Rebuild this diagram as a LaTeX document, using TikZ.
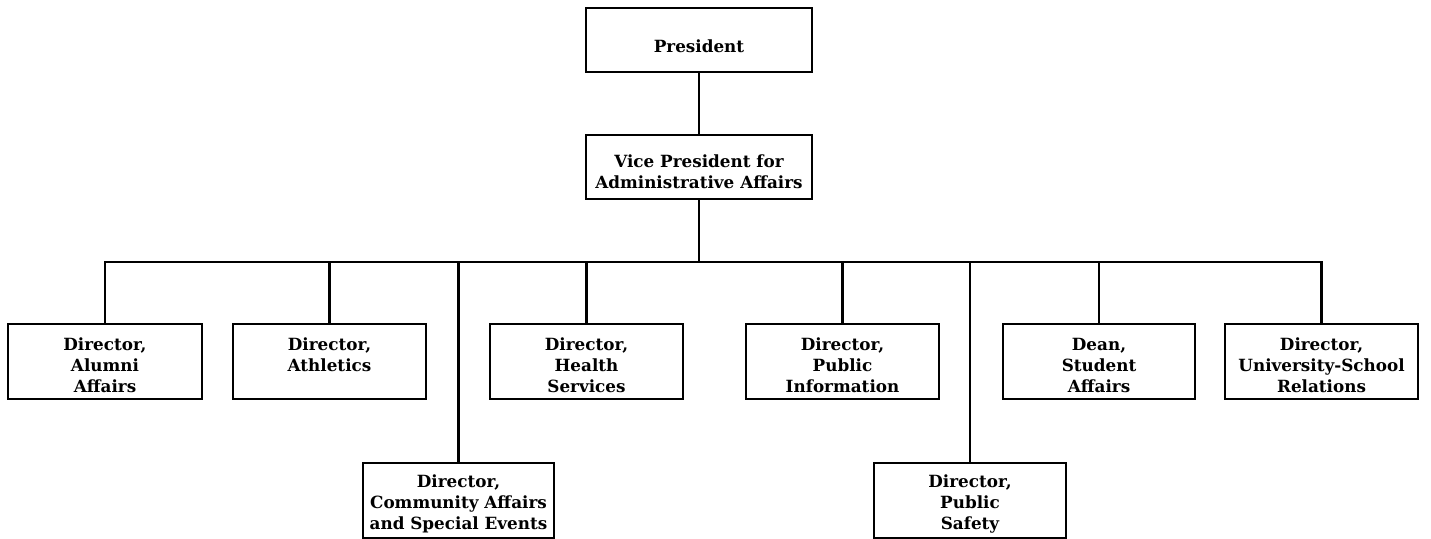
\documentclass[tikz,border=0pt]{standalone}
\usepackage{fontspec}
\setmainfont{DejaVu Serif}
\begin{document}
\begin{tikzpicture}[x=1pt,y=-1pt,
  orgbox/.style={draw=black, line width=2.3pt, fill=white, inner sep=0pt},
  rowbox/.style={orgbox, minimum width=193pt, minimum height=75pt},
  topbox/.style={orgbox, minimum width=226pt, minimum height=64pt},
  boxtext/.style={align=center, inner sep=0pt,
    font=\fontsize{16.8}{21}\selectfont\bfseries},
  link/.style={line width=2.3pt, line cap=rect}]
\useasboundingbox (0,0) rectangle (1431,538);
\fill[white] (0,0) rectangle (1431,538);

% boxes
\node[topbox] (pres) at (699,40) {};
\node[topbox] (vp) at (699,167) {};
\node[rowbox, minimum width=194pt] (alumni) at (105,361.5) {};
\node[rowbox] (ath) at (329.5,361.5) {};
\node[rowbox, minimum width=191pt] (comm) at (458.5,500.5) {};
\node[rowbox] (health) at (586.5,361.5) {};
\node[rowbox] (pubinfo) at (842.5,361.5) {};
\node[rowbox, minimum width=192pt] (safety) at (970,500.5) {};
\node[rowbox, minimum width=192pt] (dean) at (1099,361.5) {};
\node[rowbox] (univ) at (1321.5,361.5) {};

% texts
\node[boxtext] (presT) at ([yshift=-6pt]pres.center) {President};
\node[boxtext] (vpT) at ([yshift=-5pt]vp.center) {Vice President for\\Administrative Affairs};
\node[boxtext] (alumniT) at ([yshift=-4pt]alumni.center) {Director,\\Alumni\\Affairs};
\node[boxtext, anchor=north] (athT) at (alumniT.north -| ath.center) {Director,\\Athletics};
\node[boxtext] (commT) at ([yshift=-3pt]comm.center) {Director,\\Community Affairs\\and Special Events};
\node[boxtext] (healthT) at ([yshift=-4pt]health.center) {Director,\\Health\\Services};
\node[boxtext] (pubinfoT) at ([yshift=-4pt]pubinfo.center) {Director,\\Public\\Information};
\node[boxtext] (safetyT) at ([yshift=-3pt]safety.center) {Director,\\Public\\Safety};
\node[boxtext] (deanT) at ([yshift=-4pt]dean.center) {Dean,\\Student\\Affairs};
\node[boxtext] (univT) at ([yshift=-4pt]univ.center) {Director,\\University-School\\Relations};

% connectors
\coordinate (bus) at (699,262);
\draw[link] (pres) -- (vp);
\draw[link] (vp.south) -- (bus);
\draw[link] (alumni.north |- bus) -- (univ.north |- bus);
\foreach \n in {alumni,ath,comm,health,pubinfo,safety,dean,univ}
  \draw[link] (\n.north) -- (\n.north |- bus);
\end{tikzpicture}
\end{document}
